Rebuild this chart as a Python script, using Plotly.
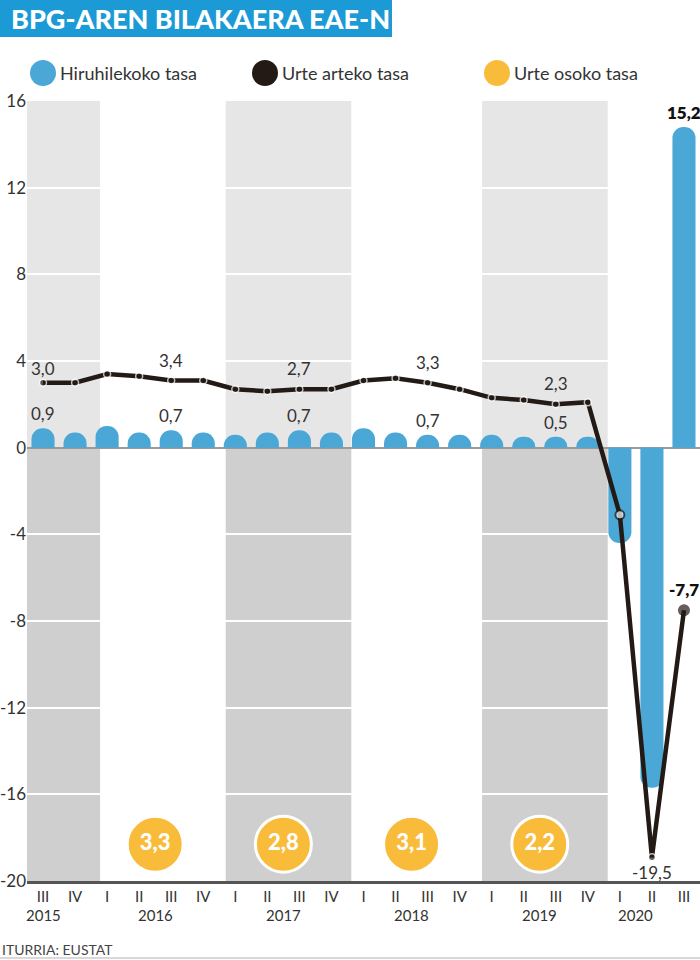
import plotly.graph_objects as go

# ---------------- data ----------------
quarters = ["III", "IV",
            "I", "II", "III", "IV",
            "I", "II", "III", "IV",
            "I", "II", "III", "IV",
            "I", "II", "III", "IV",
            "I", "II", "III"]
quarter_year = ["2015", "2015",
                "2016", "2016", "2016", "2016",
                "2017", "2017", "2017", "2017",
                "2018", "2018", "2018", "2018",
                "2019", "2019", "2019", "2019",
                "2020", "2020", "2020"]
# Hiruhilekoko tasa (quarter-on-quarter)
hiruhilekoko = [0.9, 0.7,
                1.0, 0.7, 0.8, 0.7,
                0.6, 0.7, 0.8, 0.7,
                0.9, 0.7, 0.6, 0.6,
                0.6, 0.5, 0.5, 0.5,
                -4.4, -15.7, 14.8]
# Urte arteko tasa (year-on-year)
urte_arteko = [3.0, 3.0,
               3.4, 3.3, 3.1, 3.1,
               2.7, 2.6, 2.7, 2.7,
               3.1, 3.2, 3.0, 2.7,
               2.3, 2.2, 2.0, 2.1,
               -3.1, -18.9, -7.5]
# Urte osoko tasa (annual)
annual_years = ["2016", "2017", "2018", "2019"]
annual_rate = [3.3, 2.8, 3.1, 2.2]

# printed value labels (index -> text)
hiru_labels = {0: "0,9", 4: "0,7", 8: "0,7", 12: "0,7", 16: "0,5", 20: "15,2"}
urte_labels = {0: "3,0", 4: "3,4", 8: "2,7", 12: "3,3", 16: "2,3", 19: "-19,5", 20: "-7,7"}

year_labels = ["2015", "2016", "2017", "2018", "2019", "2020"]
shaded_years = ["2015", "2017", "2019"]
y_ticks = [-20, -16, -12, -8, -4, 0, 4, 8, 12, 16]

# ---------------- style ----------------
W, H = 700, 960
ML, MR, MT, MB = 27, 0, 101, 79
BLUE = "#4aa7d6"
TITLE_BLUE = "#1b9ad6"
DARK = "#231a15"
YELLOW = "#f9bb3a"
TXT = "#333333"
FONT = "Lato"
YEAR_LABEL_X = [0, 3.5, 7.5, 11.5, 15.5, 18.5]
CIRCLE_Y = -18.3

PW, PH = W - ML - MR, H - MT - MB


def px2x(px):
    return (px - ML) / PW


def py2y(py):
    return (H - MB - py) / PH


idx = list(range(len(quarters)))
fig = go.Figure()

# shaded year bands
for yr in shaded_years:
    q = [i for i, y in enumerate(quarter_year) if y == yr]
    x0 = -0.5 if q[0] == 0 and len(q) < 4 else q[0] - 0.3
    x1 = q[-1] + (0.78 if len(q) < 4 else 0.62)
    fig.add_shape(type="rect", xref="x", yref="y", x0=x0, x1=x1, y0=0, y1=16,
                  fillcolor="#e6e6e6", line_width=0, layer="below")
    fig.add_shape(type="rect", xref="x", yref="y", x0=x0, x1=x1, y0=-20, y1=0,
                  fillcolor="#cfcfcf", line_width=0, layer="below")

# quarterly bars
fig.add_trace(go.Bar(x=idx, y=hiruhilekoko, width=0.72,
                     marker=dict(color=BLUE, line_width=0, cornerradius=11),
                     name="Hiruhilekoko tasa", showlegend=False, hoverinfo="x+y"))

# year-on-year line
n = len(urte_arteko)
m_size = [7] * n
m_color = [DARK] * n
m_lcolor = ["white"] * n
m_lwidth = [1.5] * n
m_size[n - 3], m_color[n - 3], m_lcolor[n - 3], m_lwidth[n - 3] = 9, "white", DARK, 2
m_size[n - 1], m_lwidth[n - 1] = 12, 0
fig.add_trace(go.Scatter(x=idx, y=urte_arteko, mode="lines+markers",
                         line=dict(color=DARK, width=4.5),
                         marker=dict(size=m_size, color=m_color,
                                     line=dict(color=m_lcolor, width=m_lwidth)),
                         name="Urte arteko tasa", showlegend=False))

# annual circles
annual_x = [sum(i for i, y in enumerate(quarter_year) if y == yr) /
            sum(1 for y in quarter_year if y == yr) for yr in annual_years]
fig.add_trace(go.Scatter(x=annual_x, y=[CIRCLE_Y] * len(annual_rate), mode="markers+text",
                         marker=dict(size=56, color=YELLOW, line=dict(color="white", width=3)),
                         text=[f"{v:.1f}".replace(".", ",") for v in annual_rate],
                         textposition="middle center",
                         textfont=dict(family=FONT, size=22, color="white", weight=900),
                         name="Urte osoko tasa", showlegend=False))

ann = []
# value labels
for i, t in hiru_labels.items():
    bold = i == n - 1
    ann.append(dict(x=i, y=hiruhilekoko[i], xref="x", yref="y", text=t, showarrow=False,
                    yanchor="bottom", yshift=2,
                    font=dict(family=FONT, size=17, color="#111" if bold else TXT,
                              weight=800 if bold else 400)))
for i, t in urte_labels.items():
    bold = i == n - 1
    if i == n - 2:
        ann.append(dict(x=i, y=urte_arteko[i], xref="x", yref="y", text=t, showarrow=False,
                        yanchor="top", yshift=-3,
                        font=dict(family=FONT, size=17, color=TXT)))
    else:
        ys = 2 if i == 0 else 8
        ann.append(dict(x=i, y=urte_arteko[i], xref="x", yref="y", text=t, showarrow=False,
                        yanchor="bottom", yshift=ys,
                        font=dict(family=FONT, size=17, color="#111" if bold else TXT,
                                  weight=800 if bold else 400)))
# year labels
for x, t in zip(YEAR_LABEL_X, year_labels):
    ann.append(dict(x=x, y=0, xref="x", yref="paper", text=t, showarrow=False,
                    yanchor="top", yshift=-23, font=dict(family=FONT, size=15, color=TXT)))

# title
fig.add_shape(type="rect", xref="paper", yref="paper", x0=px2x(0), x1=px2x(392),
              y0=py2y(37), y1=py2y(0), fillcolor=TITLE_BLUE, line_width=0)
ann.append(dict(x=px2x(9), y=py2y(19), xref="paper", yref="paper",
                text="BPG-AREN BILAKAERA EAE-N", showarrow=False,
                xanchor="left", yanchor="middle",
                font=dict(family=FONT, size=27, color="white", weight=900)))

# legend
legend_items = [("Hiruhilekoko tasa", BLUE, 43), ("Urte arteko tasa", DARK, 265),
                ("Urte osoko tasa", YELLOW, 497)]
for label, col, cx in legend_items:
    fig.add_shape(type="circle", xref="paper", yref="paper",
                  xsizemode="pixel", ysizemode="pixel",
                  xanchor=px2x(cx), yanchor=py2y(73), x0=-13, x1=13, y0=-13, y1=13,
                  fillcolor=col, line_width=0)
    ann.append(dict(x=px2x(cx + 15), y=py2y(73), xref="paper", yref="paper", text=label,
                    showarrow=False, xanchor="left", yanchor="middle",
                    font=dict(family=FONT, size=18, color=TXT)))

# source
ann.append(dict(x=px2x(0), y=py2y(950), xref="paper", yref="paper", text="ITURRIA: EUSTAT",
                showarrow=False, xanchor="left", yanchor="middle",
                font=dict(family=FONT, size=14, color="#444")))
fig.add_shape(type="line", xref="paper", yref="paper", x0=px2x(0), x1=px2x(700),
              y0=py2y(958), y1=py2y(958), line=dict(color="#cccccc", width=1.5))

fig.update_layout(
    width=W, height=H, margin=dict(l=ML, r=MR, t=MT, b=MB),
    paper_bgcolor="white", plot_bgcolor="white",
    showlegend=False, annotations=ann, barmode="overlay",
    font=dict(family=FONT, color=TXT),
    xaxis=dict(range=[-0.5, len(quarters) - 0.5], tickvals=idx, ticktext=quarters,
               showgrid=False, zeroline=False, showline=True, linecolor="#555555",
               linewidth=3, ticks="", tickfont=dict(family=FONT, size=15, color=TXT),
               fixedrange=True),
    yaxis=dict(range=[-20, 16], tickvals=y_ticks, ticktext=[str(v) for v in y_ticks],
               showgrid=True, gridcolor="white", gridwidth=2,
               zeroline=True, zerolinecolor="#9a9a9a", zerolinewidth=1.5,
               showline=False, ticks="", tickfont=dict(family=FONT, size=17, color=TXT),
               fixedrange=True),
)

fig.write_html("out.html")
